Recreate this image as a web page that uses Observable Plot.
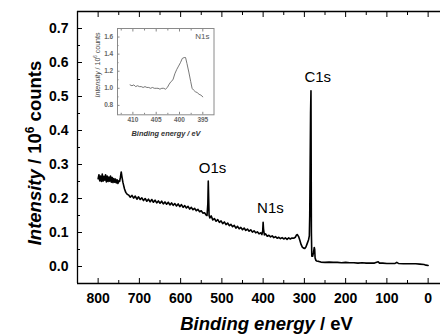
<!DOCTYPE html>
<html><head><meta charset="utf-8">
<script src="https://cdn.jsdelivr.net/npm/d3@7"></script>
<script src="https://cdn.jsdelivr.net/npm/@observablehq/plot@0.6"></script>
<style>body{margin:0;background:#fff}</style>
</head><body><div id="chart"></div>
<script>
// Survey spectrum: [binding energy (eV), intensity (10^6 counts)]
const surveySpectrum = [
[800,0.258],[798,0.270],[796,0.252],[794,0.266],[792,0.250],[790,0.272],[788,0.251],[786,0.265],
[784,0.254],[782,0.270],[780,0.249],[778,0.266],[776,0.250],[774,0.263],[772,0.251],[770,0.266],
[768,0.248],[766,0.262],[764,0.247],[762,0.259],[760,0.248],[758,0.257],[756,0.246],[754,0.255],
[752,0.244],[750,0.252],[748,0.250],[746,0.262],[744,0.278],[742,0.262],[740,0.248],[738,0.238],[736,0.228],
[733,0.218],[730,0.213],[726,0.210],[722,0.204],[718,0.209],[714,0.201],[710,0.207],[706,0.198],
[702,0.205],[698,0.197],[694,0.202],[690,0.194],[686,0.200],[682,0.192],[678,0.198],[674,0.190],
[670,0.197],[666,0.189],[662,0.195],[658,0.187],[654,0.193],[650,0.186],[646,0.192],[642,0.184],
[638,0.190],[634,0.183],[630,0.189],[626,0.181],[622,0.187],[618,0.180],[614,0.185],[610,0.178],
[606,0.184],[602,0.176],[598,0.182],[594,0.174],[590,0.179],[586,0.172],[582,0.177],[578,0.169],
[574,0.174],[570,0.167],[566,0.171],[562,0.164],[558,0.168],[554,0.161],[550,0.164],[546,0.157],
[542,0.158],[538,0.151],[536,0.150],[534,0.185],[533,0.251],[532,0.200],[531,0.150],[529,0.143],
[526,0.149],[522,0.137],[518,0.141],[514,0.133],[510,0.138],[506,0.130],[502,0.134],[498,0.126],
[494,0.131],[490,0.123],[486,0.128],[482,0.120],[478,0.124],[474,0.117],[470,0.121],[466,0.113],
[462,0.118],[458,0.111],[454,0.115],[450,0.108],[446,0.113],[442,0.106],[438,0.110],[434,0.104],
[430,0.108],[426,0.101],[422,0.105],[418,0.099],[414,0.102],[410,0.096],[406,0.099],[403,0.094],
[401,0.105],[400,0.130],[399,0.110],[397,0.093],[394,0.096],[390,0.089],[386,0.092],[382,0.087],
[378,0.090],[374,0.085],[370,0.088],[366,0.083],[362,0.086],[358,0.082],[354,0.085],[350,0.081],
[346,0.084],[342,0.080],[338,0.084],[334,0.081],[330,0.084],[326,0.083],[322,0.086],[319,0.093],
[317,0.094],[314,0.088],[311,0.077],[308,0.065],[305,0.057],[302,0.054],[299,0.053],[296,0.058],
[293,0.068],[290,0.078],[288,0.090],[287,0.150],[286,0.300],[285,0.450],[284,0.517],[283.5,0.300],
[283,0.100],[282,0.030],[280,0.030],[278,0.040],[276,0.056],[275,0.050],[274,0.025],[272,0.018],
[270,0.016],[265,0.015],[260,0.013],[250,0.012],[240,0.013],[230,0.012],[220,0.012],[210,0.011],
[200,0.012],[190,0.011],[180,0.011],[170,0.010],[160,0.011],[150,0.010],[140,0.010],[130,0.010],
[121,0.014],[118,0.010],[110,0.010],[100,0.009],[90,0.009],[80,0.009],[76,0.012],[72,0.009],
[60,0.008],[50,0.008],[40,0.008],[30,0.008],[20,0.007],[10,0.006],[5,0.004],[0,0.003]
];
// N1s high-resolution inset: [binding energy (eV), intensity (10^6 counts)]
const n1sSpectrum = [
[410.6,1.04],[410.2,1.03],[409.8,1.04],[409.4,1.02],[409.0,1.03],[408.6,1.02],[408.2,1.02],[407.8,1.01],
[407.4,1.02],[407.0,1.01],[406.6,1.01],[406.2,1.00],[405.8,1.01],[405.4,1.00],[405.0,1.00],[404.6,1.00],
[404.2,0.99],[403.8,1.00],[403.4,1.00],[403.0,0.99],[402.6,1.01],[402.2,1.05],[401.8,1.08],[401.4,1.10],
[401.0,1.17],[400.6,1.22],[400.2,1.26],[399.8,1.30],[399.4,1.35],[399.0,1.36],[398.7,1.36],[398.4,1.29],
[398.0,1.19],[397.6,1.08],[397.3,1.00],[397.0,0.98],[396.6,0.96],[396.2,0.95],[395.8,0.93],[395.4,0.92],
[395.0,0.90]
];
const peakLabels = [
  {name:"O1s", e:522.6, v:0.288},
  {name:"N1s", e:382.3, v:0.171},
  {name:"C1s", e:267.6, v:0.556}
];
const xMajorTicks = [800,700,600,500,400,300,200,100,0];
const xMinorTicks = [850,750,650,550,450,350,250,150,50];
const yMajorTicks = [0,0.1,0.2,0.3,0.4,0.5,0.6,0.7];
const yMinorTicks = [0.05,0.15,0.25,0.35,0.45,0.55,0.65];
const insetXTicks = [410,405,400,395];
const insetXMinor = [412.5,407.5,402.5,397.5];
const insetYTicks = [0.8,1.0,1.2,1.4,1.6];
const insetYMinor = [0.9,1.1,1.3,1.5,1.7];

const font = "'Liberation Sans', Arial, Helvetica, sans-serif";
const survey = surveySpectrum.map(([e,v]) => ({e, v}));
const n1s = n1sSpectrum.map(([e,v]) => ({e, v}));
const blank = () => "";

const main = Plot.plot({
  width: 441, height: 334,
  marginLeft: 77, marginRight: 1, marginTop: 11, marginBottom: 51,
  style: {fontFamily: font, background: "white", color: "black"},
  x: {domain: [850, -30], label: null},
  y: {domain: [-0.05, 0.75], label: null},
  marks: [
    Plot.line(survey, {x: "e", y: "v", stroke: "black", strokeWidth: 1.6, strokeLinejoin: "round"}),
    Plot.text(peakLabels, {x: "e", y: "v", text: "name", fontSize: 15, fill: "black"}),
    Plot.axisX({anchor: "bottom", ticks: xMajorTicks, tickSize: -5, tickPadding: 15, fontSize: 14, fontWeight: "bold", tickFormat: d => String(d), label: null}),
    Plot.axisX({anchor: "bottom", ticks: xMinorTicks, tickSize: -3, tickFormat: blank, label: null}),
    Plot.axisX({anchor: "top", ticks: xMajorTicks, tickSize: -5, tickFormat: blank, label: null}),
    Plot.axisX({anchor: "top", ticks: xMinorTicks, tickSize: -3, tickFormat: blank, label: null}),
    Plot.axisY({anchor: "left", ticks: yMajorTicks, tickSize: -5, tickPadding: 14, fontSize: 14, fontWeight: "bold", tickFormat: d3.format(".1f"), label: null}),
    Plot.axisY({anchor: "left", ticks: yMinorTicks, tickSize: -3, tickFormat: blank, label: null}),
    Plot.ruleX([850], {stroke: "black", strokeWidth: 1.3}),
    Plot.ruleY([-0.05], {stroke: "black", strokeWidth: 1.3}),
    Plot.ruleY([0.75], {stroke: "black", strokeWidth: 1.3})
  ]
});

const inset = Plot.plot({
  width: 441, height: 334,
  marginLeft: 117, marginRight: 227.5, marginTop: 28, marginBottom: 219.7,
  x: {domain: [413.3, 392.6], label: null},
  y: {domain: [0.69, 1.70], label: null},
  marks: [
    Plot.frame({fill: "white", stroke: "#8a8a8a", strokeWidth: 1}),
    Plot.line(n1s, {x: "e", y: "v", stroke: "#555", strokeWidth: 0.8}),
    Plot.axisX({anchor: "bottom", ticks: insetXTicks, tickSize: -2.5, tickPadding: 5, fontSize: 6.5, fontWeight: "bold", stroke: "#888", fill: "#666", tickFormat: d => String(d), label: null}),
    Plot.axisX({anchor: "bottom", ticks: insetXMinor, tickSize: -1.5, stroke: "#888", tickFormat: blank, label: null}),
    Plot.axisX({anchor: "top", ticks: insetXTicks, tickSize: -2.5, stroke: "#888", tickFormat: blank, label: null}),
    Plot.axisX({anchor: "top", ticks: insetXMinor, tickSize: -1.5, stroke: "#888", tickFormat: blank, label: null}),
    Plot.axisY({anchor: "left", ticks: insetYTicks, tickSize: -2.5, tickPadding: 6.8, fontSize: 6.5, fontWeight: "bold", stroke: "#888", fill: "#666", tickFormat: d3.format(".1f"), label: null}),
    Plot.axisY({anchor: "left", ticks: insetYMinor, tickSize: -1.5, stroke: "#888", tickFormat: blank, label: null}),
    Plot.text(["N1s"], {frameAnchor: "top-right", dx: -4.5, dy: 5, fontSize: 8, fill: "#555"})
  ]
});

const svg = d3.select(main);
const g = svg.append("g")
  .attr("fill", "black").attr("font-family", font)
  .attr("font-size", 10).attr("text-anchor", "middle");
Array.from(inset.childNodes).forEach(n => {
  if (n.nodeName.toLowerCase() !== "style") g.node().appendChild(n);
});

// Main axis titles
const xl = svg.append("text").attr("x", 266.5).attr("y", 330)
  .attr("text-anchor", "middle").attr("font-size", 18.5).attr("font-weight", "bold")
  .attr("font-family", font).attr("fill", "black");
xl.append("tspan").attr("font-style", "italic").text("Binding energy");
xl.append("tspan").text(" / eV");

const yl = svg.append("text").attr("transform", "translate(41,153) rotate(-90)")
  .attr("text-anchor", "middle").attr("font-size", 18.5).attr("font-weight", "bold")
  .attr("font-family", font).attr("fill", "black");
yl.append("tspan").attr("font-style", "italic").text("Intensity");
yl.append("tspan").text(" / 10");
yl.append("tspan").attr("dy", -7).attr("font-size", 12).text("6");
yl.append("tspan").attr("dy", 7).text(" counts");

// Inset axis titles
const ixl = g.append("text").attr("x", 166).attr("y", 135.5)
  .attr("text-anchor", "middle").attr("font-size", 7.4).attr("font-weight", "bold")
  .attr("font-style", "italic").attr("fill", "#333");
ixl.text("Binding energy / eV");

const iyl = g.append("text").attr("transform", "translate(99.5,65) rotate(-90)")
  .attr("text-anchor", "middle").attr("font-size", 7).attr("fill", "#444");
iyl.append("tspan").attr("font-style", "italic").text("Intensity");
iyl.append("tspan").text(" / 10");
iyl.append("tspan").attr("dy", -2.8).attr("font-size", 4.6).text("6");
iyl.append("tspan").attr("dy", 2.8).text(" counts");

document.getElementById("chart").appendChild(main);
</script>
</body></html>
